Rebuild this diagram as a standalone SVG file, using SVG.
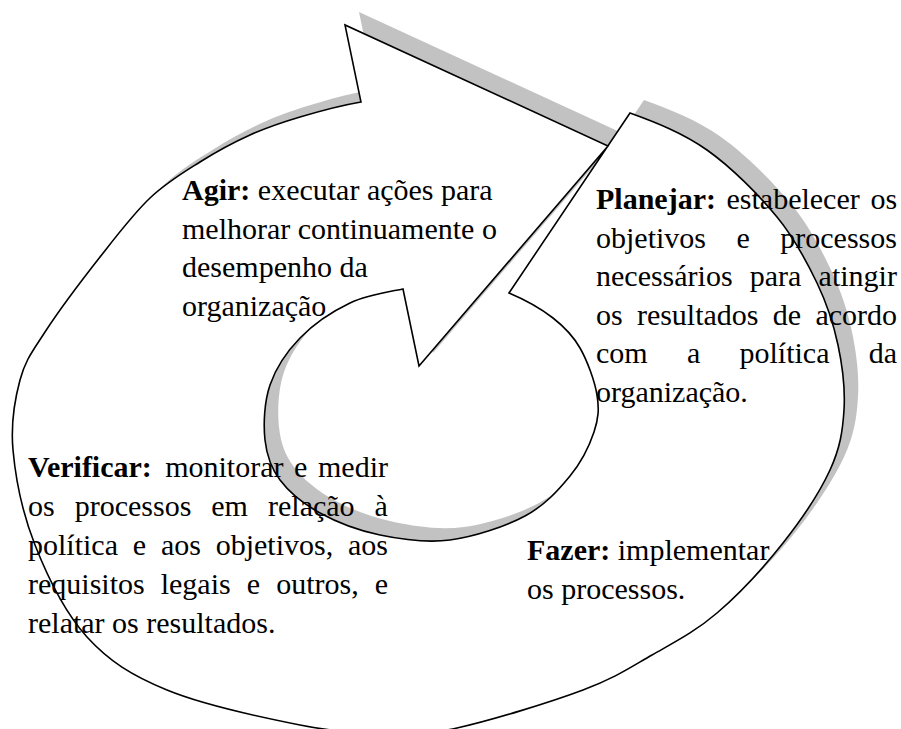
<svg xmlns="http://www.w3.org/2000/svg" width="901" height="729" viewBox="0 0 901 729">
<style>
.t{font-family:"Liberation Serif","Times New Roman",serif;font-size:30px;fill:#000}
.b{font-weight:bold}
.band{fill:#fff;stroke:#000;stroke-width:1.6;stroke-linejoin:miter}
.shadow{fill:#c2c2c2;stroke:none}
</style>
<defs>
<path id="spiral" d="M630,113 C655.3,122.2 682.5,132.7 707,150 C731.5,167.3 758.7,194.8 777,217 C795.3,239.2 806.8,261.7 817,283 C827.2,304.3 833.5,323.8 838,345 C842.5,366.2 845.3,389.2 844,410 C842.7,430.8 840.2,447.8 830,470 C819.8,492.2 801.8,519.2 783,543 C764.2,566.8 738.8,594.3 717,613 C695.2,631.7 674.3,642.2 652,655 C629.7,667.8 615.5,677.8 583,690 C550.5,702.2 490,720.8 457,728 C424,735.2 411.2,733.5 385,733 C358.8,732.5 336.3,732.2 300,725 C263.7,717.8 202.5,704.7 167,690 C131.5,675.3 109,661.2 87,637 C65,612.8 47.3,576.2 35,545 C22.7,513.8 15.5,477.5 13,450 C10.5,422.5 14.7,399.7 20,380 C25.3,360.3 31.7,352.5 45,332 C58.3,311.5 82.5,279.3 100,257 C117.5,234.7 133.3,213.8 150,198 C166.7,182.2 183.3,172.5 200,162 C216.7,151.5 233.3,142.5 250,135 C266.7,127.5 281.5,122.5 300,117 C318.5,111.5 339.3,105.7 361,102 L345,25 L608,146 L419,366 L403,289 C388,292 367.2,294.8 350,303 C332.8,311.2 313.3,324.3 300,338 C286.7,351.7 275.8,368 270,385 C264.2,402 263.3,424.2 265,440 C266.7,455.8 270.8,467.8 280,480 C289.2,492.2 303.3,503.8 320,513 C336.7,522.2 358.3,530.5 380,535 C401.7,539.5 425.8,543.2 450,540 C474.2,536.8 505,526.7 525,516 C545,505.3 558.5,490 570,476 C581.5,462 589.5,445.5 594,432 C598.5,418.5 599.3,409 597,395 C594.7,381 587.3,360.8 580,348 C572.7,335.2 564.8,327.2 553,318 C541.2,308.8 522.8,298.8 509,293 L630,113 Z"/>
</defs>
<g id="connectors">
<use href="#spiral" transform="translate(14,-13)" class="shadow"/>
<use href="#spiral" class="band"/>
</g>
<g id="agir">
<text class="t" x="182" y="200"><tspan class="b">Agir:</tspan> executar ações para</text>
<text class="t" x="182" y="238.5">melhorar continuamente o</text>
<text class="t" x="182" y="277">desempenho da</text>
<text class="t" x="182" y="315.5">organização</text>
</g>
<g id="planejar">
<text class="t" y="209"><tspan class="b" x="596">Planejar:</tspan><tspan x="726.5">estabelecer</tspan><tspan x="870.4">os</tspan></text>
<text class="t" y="247.5"><tspan x="596">objetivos</tspan><tspan x="736.5">e</tspan><tspan x="780.3">processos</tspan></text>
<text class="t" y="286"><tspan x="596">necessários</tspan><tspan x="749.8">para</tspan><tspan x="818.6">atingir</tspan></text>
<text class="t" y="324.5"><tspan x="596">os</tspan><tspan x="636.9">resultados</tspan><tspan x="772.8">de</tspan><tspan x="815.4">acordo</tspan></text>
<text class="t" y="363"><tspan x="596">com</tspan><tspan x="686.9">a</tspan><tspan x="739.5">política</tspan><tspan x="868.7">da</tspan></text>
<text class="t" x="596" y="401.5">organização.</text>
</g>
<g id="verificar">
<text class="t" y="477"><tspan class="b" x="28">Verificar:</tspan><tspan x="165.2">monitorar</tspan><tspan x="294.1">e</tspan><tspan x="318">medir</tspan></text>
<text class="t" y="516"><tspan x="28">os</tspan><tspan x="74.7">processos</tspan><tspan x="211.3">em</tspan><tspan x="268">relação</tspan><tspan x="374.6">à</tspan></text>
<text class="t" y="555"><tspan x="28">política</tspan><tspan x="132.8">e</tspan><tspan x="160.9">aos</tspan><tspan x="215.7">objetivos,</tspan><tspan x="348">aos</tspan></text>
<text class="t" y="594"><tspan x="28">requisitos</tspan><tspan x="160.7">legais</tspan><tspan x="246.8">e</tspan><tspan x="276.2">outros,</tspan><tspan x="374.7">e</tspan></text>
<text class="t" x="28" y="633">relatar os resultados.</text>
</g>
<g id="fazer">
<text class="t" x="527" y="560"><tspan class="b">Fazer:</tspan> implementar</text>
<text class="t" x="527" y="599">os processos.</text>
</g>
</svg>
